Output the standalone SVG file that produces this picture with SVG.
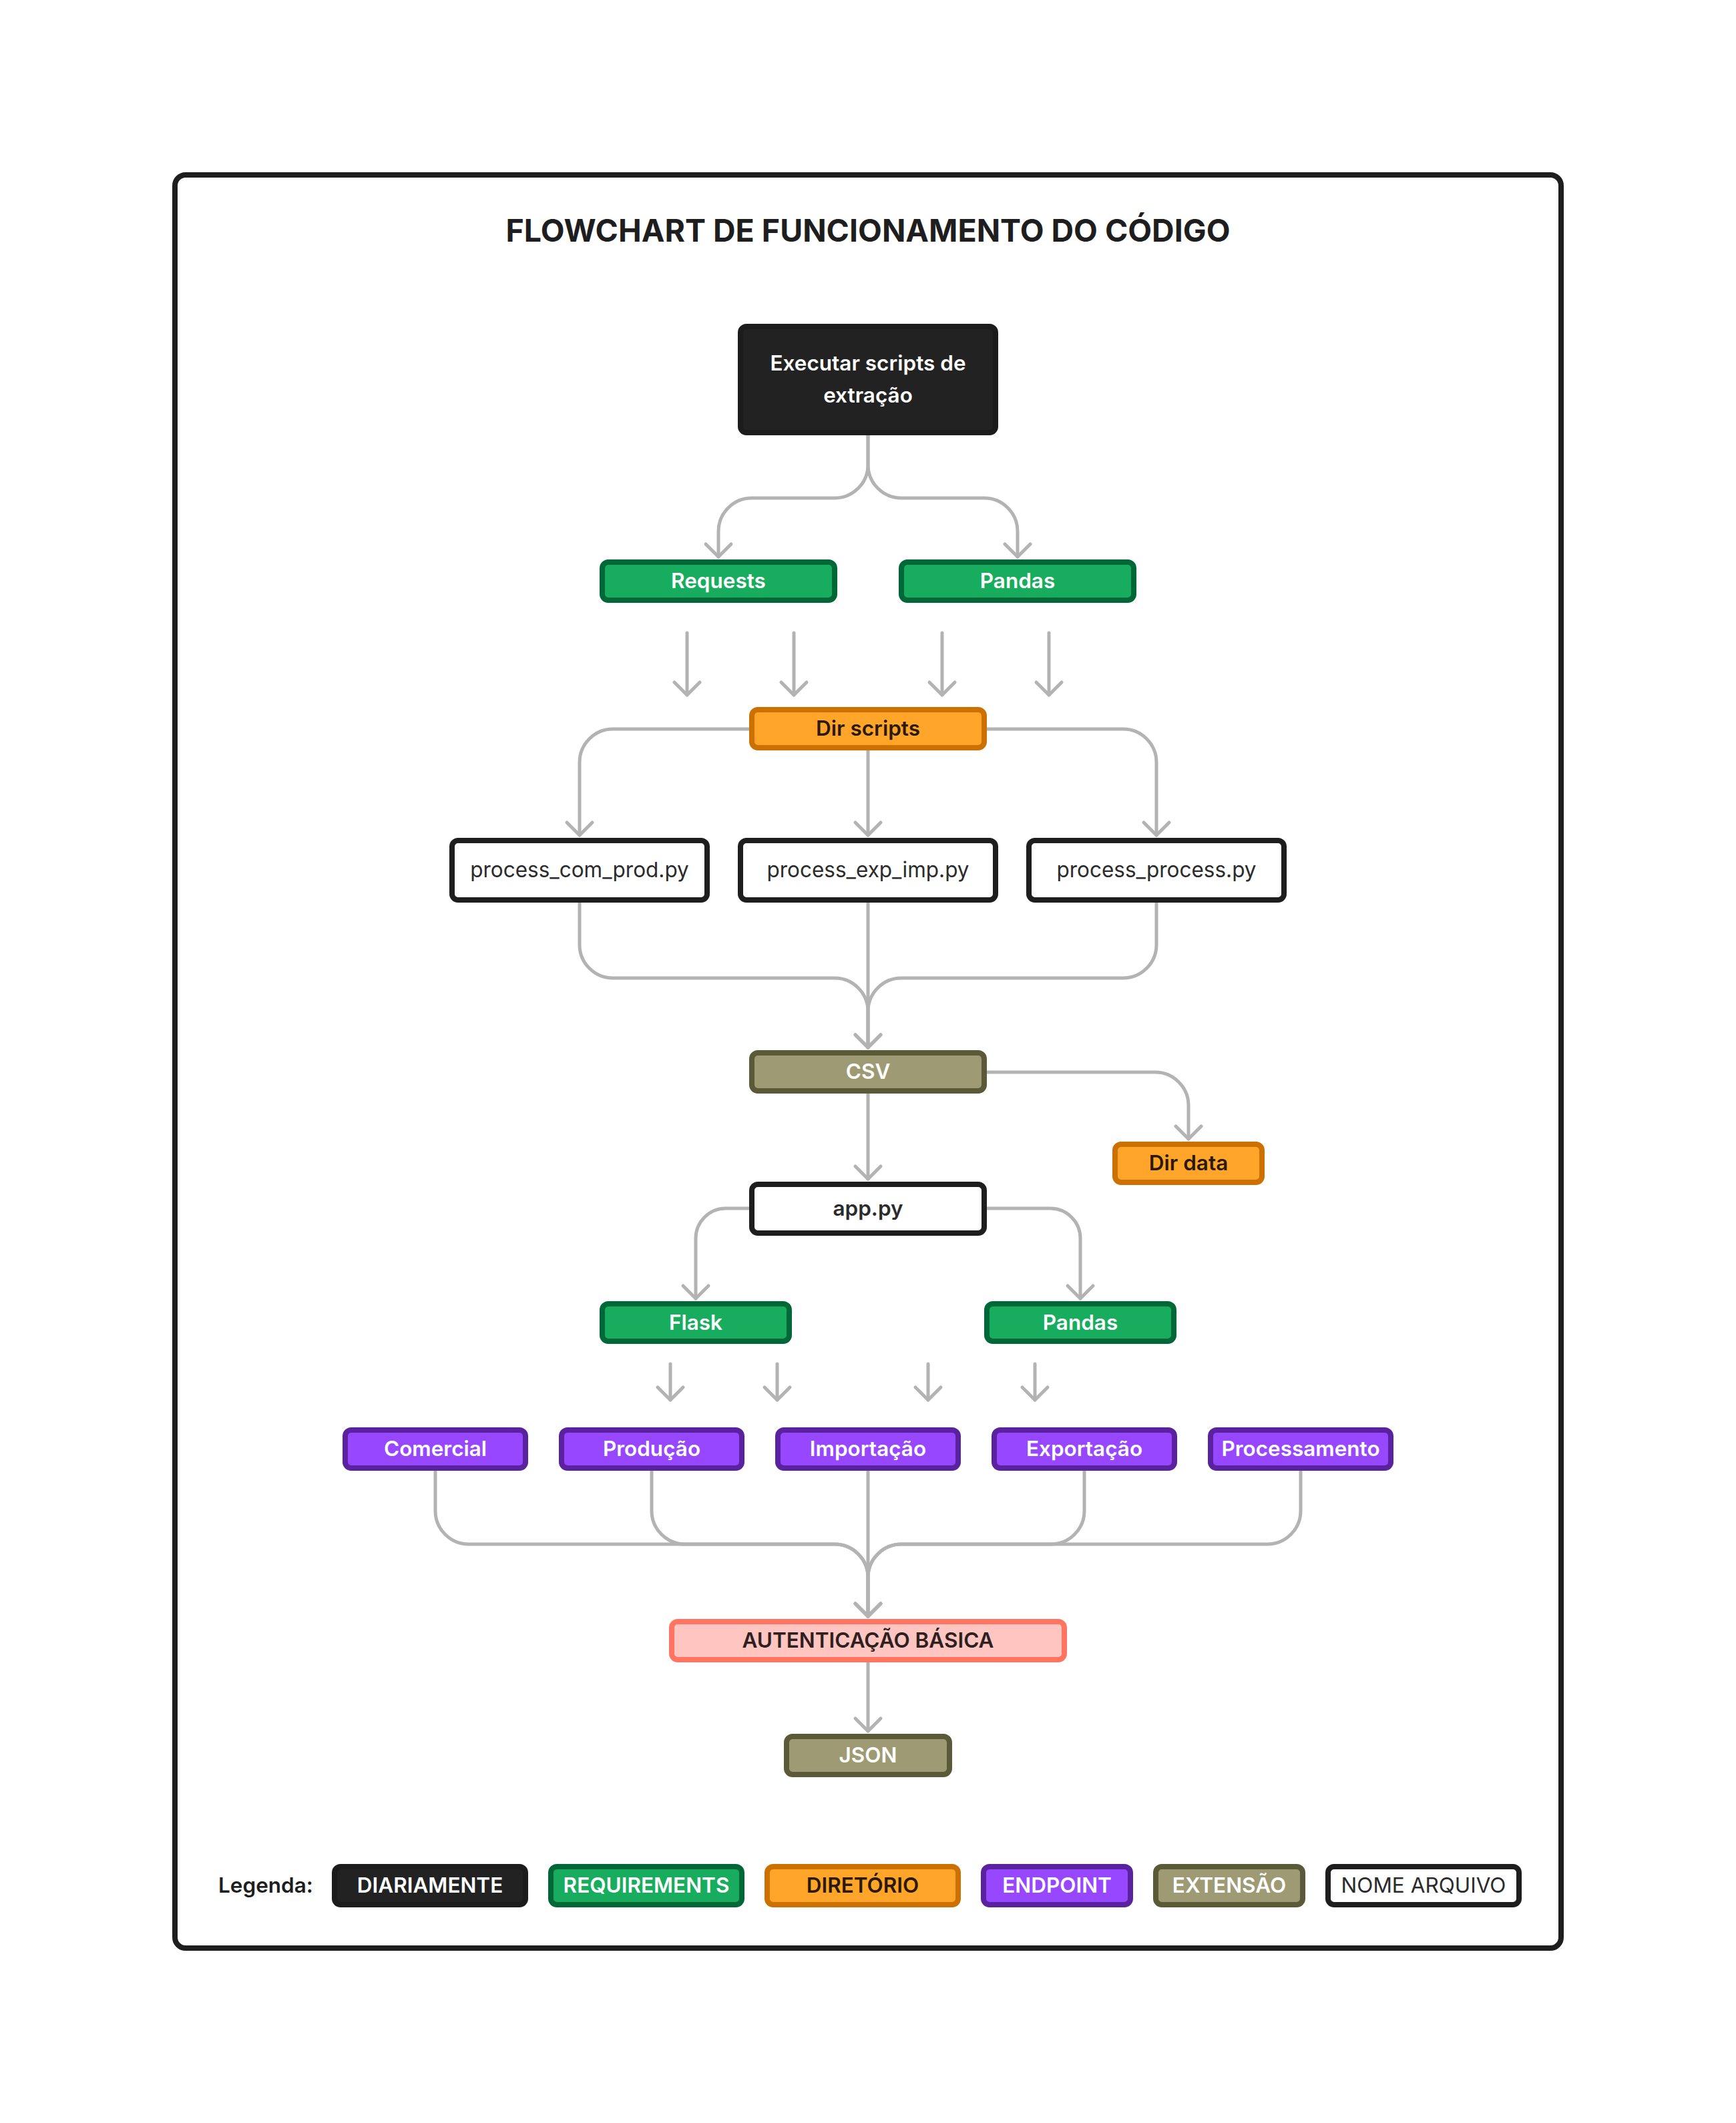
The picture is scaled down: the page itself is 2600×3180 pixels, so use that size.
<svg xmlns="http://www.w3.org/2000/svg" width="2600" height="3180" viewBox="0 0 2600 3180">
<defs>
<marker id="arr" markerUnits="userSpaceOnUse" markerWidth="60" markerHeight="60" viewBox="-30 -30 60 60" refX="0" refY="0" orient="auto" overflow="visible">
<path d="M-19,-19 L0,0 L-19,19" fill="none" stroke="#b3b3b3" stroke-width="5" stroke-linecap="round" stroke-linejoin="round"/>
</marker>
<style>
.conn{fill:none;stroke:#b3b3b3;stroke-width:5;stroke-linecap:round;stroke-linejoin:round;marker-end:url(#arr)}
text{font-family:Inter,"Liberation Sans",sans-serif;font-size:31.5px;font-weight:600;text-anchor:middle}
rect.n{stroke-width:8;rx:9;ry:9}
.green rect{fill:#18ad5e;stroke:#006837}
.green text{fill:#ffffff}
.purple rect{fill:#9747ff;stroke:#5a229e}
.purple text{fill:#ffffff}
.olive rect{fill:#9e9a74;stroke:#5a5a38}
.olive text{fill:#ffffff}
.orange rect{fill:#fea52a;stroke:#cc7000}
.orange text{fill:#2b1a00}
.pink rect{fill:#ffc6c1;stroke:#ff7562}
.pink text{fill:#2e2020}
.black rect{fill:#222222;stroke:#1c1c1c}
.black text{fill:#ffffff}
.white rect{fill:#ffffff;stroke:#1e1e1e}
.white text{fill:#2b2b2b}
.reg{font-weight:400}
</style>
</defs>
<rect x="0" y="0" width="2600" height="3180" fill="#ffffff"/>
<rect id="frame" x="262" y="262" width="2076" height="2656" rx="16" ry="16" fill="#ffffff" stroke="#1e1e1e" stroke-width="8"/>
<text id="title" x="1300" y="362" style="font-size:46.5px;font-weight:700;fill:#1e1e1e">FLOWCHART DE FUNCIONAMENTO DO CÓDIGO</text>

<g id="connectors">
<path class="conn" d="M1300 653 V696 A50 50 0 0 1 1250 746 H1126 A50 50 0 0 0 1076 796 V834"/>
<path class="conn" d="M1300 653 V696 A50 50 0 0 0 1350 746 H1474 A50 50 0 0 1 1524 796 V834"/>
<path class="conn" d="M1029 948 V1041"/>
<path class="conn" d="M1189 948 V1041"/>
<path class="conn" d="M1411 948 V1041"/>
<path class="conn" d="M1571 948 V1041"/>
<path class="conn" d="M1122 1092 H918 A50 50 0 0 0 868 1142 V1251"/>
<path class="conn" d="M1300 1125 V1251"/>
<path class="conn" d="M1478 1092 H1682 A50 50 0 0 1 1732 1142 V1251"/>
<path class="conn" d="M868 1353 V1415 A50 50 0 0 0 918 1465 H1250 A50 50 0 0 1 1300 1515 V1569"/>
<path class="conn" d="M1300 1353 V1569"/>
<path class="conn" d="M1732 1353 V1415 A50 50 0 0 1 1682 1465 H1350 A50 50 0 0 0 1300 1515 V1569"/>
<path class="conn" d="M1479 1606 H1730 A50 50 0 0 1 1780 1656 V1706"/>
<path class="conn" d="M1300 1639 V1766"/>
<path class="conn" d="M1121 1810 H1087 A45 45 0 0 0 1042 1855 V1945"/>
<path class="conn" d="M1479 1810 H1573 A45 45 0 0 1 1618 1855 V1945"/>
<path class="conn" d="M1004 2043 V2097"/>
<path class="conn" d="M1164 2043 V2097"/>
<path class="conn" d="M1390 2043 V2097"/>
<path class="conn" d="M1550 2043 V2097"/>
<path class="conn" d="M652 2204 V2263 A50 50 0 0 0 702 2313 H1250 A50 50 0 0 1 1300 2363 V2421"/>
<path class="conn" d="M976 2204 V2263 A50 50 0 0 0 1026 2313 H1250 A50 50 0 0 1 1300 2363 V2421"/>
<path class="conn" d="M1300 2204 V2421"/>
<path class="conn" d="M1624 2204 V2263 A50 50 0 0 1 1574 2313 H1350 A50 50 0 0 0 1300 2363 V2421"/>
<path class="conn" d="M1948 2204 V2263 A50 50 0 0 1 1898 2313 H1350 A50 50 0 0 0 1300 2363 V2421"/>
<path class="conn" d="M1300 2491 V2593"/>
</g>

<g id="n-executar" class="black"><rect class="n" x="1109" y="489" width="382" height="159"/><text x="1300" y="555">Executar scripts de</text><text x="1300" y="603">extração</text></g>
<g id="n-requests" class="green"><rect class="n" x="902" y="842" width="348" height="57"/><text x="1076" y="881">Requests</text></g>
<g id="n-pandas1" class="green"><rect class="n" x="1350" y="842" width="348" height="57"/><text x="1524" y="881">Pandas</text></g>
<g id="n-dirscripts" class="orange"><rect class="n" x="1126" y="1063" width="348" height="57"/><text x="1300" y="1102">Dir scripts</text></g>
<g id="n-comprod" class="white"><rect class="n" x="677" y="1259" width="382" height="89"/><text class="reg" x="868" y="1314">process_com_prod.py</text></g>
<g id="n-expimp" class="white"><rect class="n" x="1109" y="1259" width="382" height="89"/><text class="reg" x="1300" y="1314">process_exp_imp.py</text></g>
<g id="n-process" class="white"><rect class="n" x="1541" y="1259" width="382" height="89"/><text class="reg" x="1732" y="1314">process_process.py</text></g>
<g id="n-csv" class="olive"><rect class="n" x="1126" y="1577" width="348" height="57"/><text x="1300" y="1616">CSV</text></g>
<g id="n-dirdata" class="orange"><rect class="n" x="1670" y="1714" width="220" height="57"/><text x="1780" y="1753">Dir data</text></g>
<g id="n-app" class="white"><rect class="n" x="1126" y="1774" width="348" height="73"/><text x="1300" y="1821">app.py</text></g>
<g id="n-flask" class="green"><rect class="n" x="902" y="1953" width="280" height="56"/><text x="1042" y="1992">Flask</text></g>
<g id="n-pandas2" class="green"><rect class="n" x="1478" y="1953" width="280" height="56"/><text x="1618" y="1992">Pandas</text></g>
<g id="n-comercial" class="purple"><rect class="n" x="517" y="2142" width="270" height="57"/><text x="652" y="2181">Comercial</text></g>
<g id="n-producao" class="purple"><rect class="n" x="841" y="2142" width="270" height="57"/><text x="976" y="2181">Produção</text></g>
<g id="n-importacao" class="purple"><rect class="n" x="1165" y="2142" width="270" height="57"/><text x="1300" y="2181">Importação</text></g>
<g id="n-exportacao" class="purple"><rect class="n" x="1489" y="2142" width="270" height="57"/><text x="1624" y="2181">Exportação</text></g>
<g id="n-processamento" class="purple"><rect class="n" x="1813" y="2142" width="270" height="57"/><text x="1948" y="2181">Processamento</text></g>
<g id="n-auth" class="pink"><rect class="n" x="1006" y="2429" width="588" height="57"/><text x="1300" y="2468">AUTENTICAÇÃO BÁSICA</text></g>
<g id="n-json" class="olive"><rect class="n" x="1178" y="2601" width="244" height="57"/><text x="1300" y="2640">JSON</text></g>

<g id="legend">
<text x="327" y="2835" style="text-anchor:start;fill:#1e1e1e">Legenda:</text>
<g class="black"><rect class="n" x="501" y="2796" width="286" height="57"/><text x="644" y="2835">DIARIAMENTE</text></g>
<g class="green"><rect class="n" x="825" y="2796" width="286" height="57"/><text x="968" y="2835">REQUIREMENTS</text></g>
<g class="orange"><rect class="n" x="1149" y="2796" width="286" height="57"/><text x="1292" y="2835">DIRETÓRIO</text></g>
<g class="purple"><rect class="n" x="1473" y="2796" width="220" height="57"/><text x="1583" y="2835">ENDPOINT</text></g>
<g class="olive"><rect class="n" x="1731" y="2796" width="220" height="57"/><text x="1841" y="2835">EXTENSÃO</text></g>
<g class="white"><rect class="n" x="1989" y="2796" width="286" height="57"/><text class="reg" x="2132" y="2835">NOME ARQUIVO</text></g>
</g>
</svg>
